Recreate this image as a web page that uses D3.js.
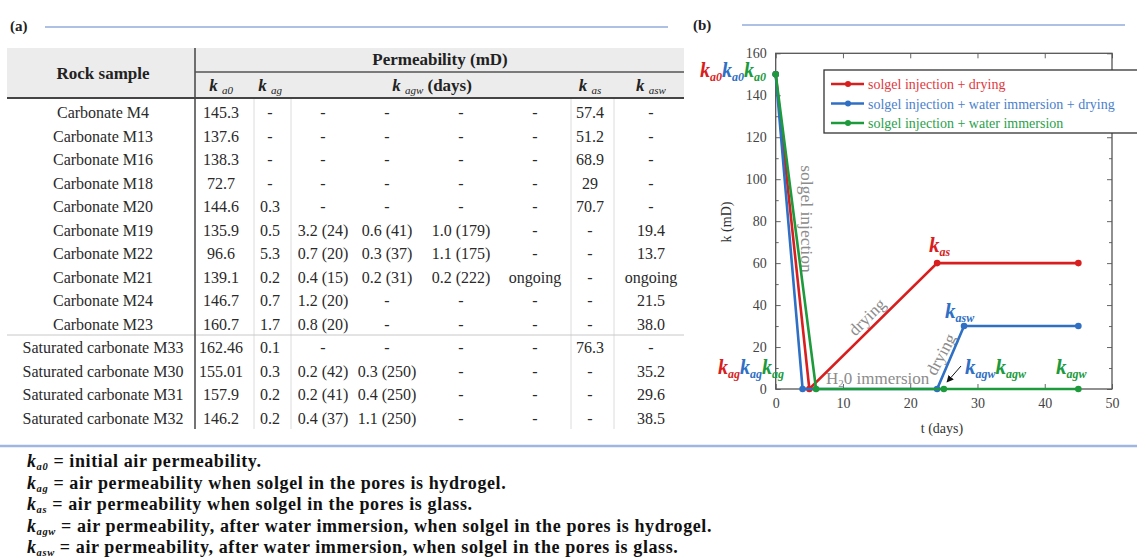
<!doctype html>
<html>
<head>
<meta charset="utf-8">
<title>Permeability</title>
<style>
body { margin: 0; background: #fff; }
text { font-family: "Liberation Serif", serif; }
</style>
<script src="https://cdn.jsdelivr.net/npm/d3@7/dist/d3.min.js"></script>
</head>
<body>
<script>
// ---- table data (a) ----
var samples = ["Carbonate M4", "Carbonate M13", "Carbonate M16", "Carbonate M18", "Carbonate M20",
    "Carbonate M19", "Carbonate M22", "Carbonate M21", "Carbonate M24", "Carbonate M23",
    "Saturated carbonate M33", "Saturated carbonate M30", "Saturated carbonate M31", "Saturated carbonate M32"];
var ka0 = ["145.3", "137.6", "138.3", "72.7", "144.6", "135.9", "96.6", "139.1", "146.7", "160.7",
    "162.46", "155.01", "157.9", "146.2"];
var kag = ["-", "-", "-", "-", "0.3", "0.5", "5.3", "0.2", "0.7", "1.7", "0.1", "0.3", "0.2", "0.2"];
var kagw1 = ["-", "-", "-", "-", "-", "3.2 (24)", "0.7 (20)", "0.4 (15)", "1.2 (20)", "0.8 (20)",
    "-", "0.2 (42)", "0.2 (41)", "0.4 (37)"];
var kagw2 = ["-", "-", "-", "-", "-", "0.6 (41)", "0.3 (37)", "0.2 (31)", "-", "-",
    "-", "0.3 (250)", "0.4 (250)", "1.1 (250)"];
var kagw3 = ["-", "-", "-", "-", "-", "1.0 (179)", "1.1 (175)", "0.2 (222)", "-", "-", "-", "-", "-", "-"];
var kagw4 = ["-", "-", "-", "-", "-", "-", "-", "ongoing", "-", "-", "-", "-", "-", "-"];
var kas = ["57.4", "51.2", "68.9", "29", "70.7", "-", "-", "-", "-", "-", "76.3", "-", "-", "-"];
var kasw = ["-", "-", "-", "-", "-", "19.4", "13.7", "ongoing", "21.5", "38.0", "-", "35.2", "29.6", "38.5"];

// ---- chart data (b) ----
var seriesNames = ["solgel injection + drying", "solgel injection + water immersion + drying",
    "solgel injection + water immersion"];
var tRed = [0, 5, 24, 45], kRed = [150, 0, 60, 60];
var tBlue = [0, 4, 24, 28, 45], kBlue = [150, 0, 0, 30, 30];
var tGreen = [0, 6, 25, 45], kGreen = [150, 0, 0, 0];
var xTicks = [0, 10, 20, 30, 40, 50];
var yTicks = [0, 20, 40, 60, 80, 100, 120, 140, 160];

var notes = [["a0", "initial air permeability."],
    ["ag", "air permeability when solgel in the pores is hydrogel."],
    ["as", "air permeability when solgel in the pores is glass."],
    ["agw", "air permeability, after water immersion, when solgel in the pores is hydrogel."],
    ["asw", "air permeability, after water immersion, when solgel in the pores is glass."]];

var red = "#d81e1e", blue = "#2f6fc4", green = "#1c9a3c";
var colors = [red, blue, green];
var legendColors = ["#e0393d", "#4a7fcc", "#2aa04a"];

var svg = d3.select("body").append("svg")
    .attr("width", 1137)
    .attr("height", 558);

// k with subscript, several in a row
function kRow(x, y, subs, cols, size, subSize, shift) {
    var t = svg.append("text").attr("x", x).attr("y", y)
        .attr("font-weight", "bold").attr("font-style", "italic").attr("font-size", size);
    subs.forEach(function(s, i) {
        t.append("tspan").attr("fill", cols[i]).attr("dy", i ? -shift : 0).text("k");
        t.append("tspan").attr("fill", cols[i]).attr("font-size", subSize).attr("dy", shift).text(s);
    });
    return t;
}

// ---- panel titles ----
svg.append("text").attr("x", 10).attr("y", 31).attr("font-weight", "bold").attr("font-size", 15).attr("fill", "#222").text("(a)");
svg.append("line").attr("x1", 45).attr("x2", 668).attr("y1", 27).attr("y2", 27).attr("stroke", "#5f84cc").attr("stroke-width", 1.2);
svg.append("text").attr("x", 693).attr("y", 30).attr("font-weight", "bold").attr("font-size", 15).attr("fill", "#222").text("(b)");
svg.append("line").attr("x1", 742).attr("x2", 1125).attr("y1", 25).attr("y2", 25).attr("stroke", "#5f84cc").attr("stroke-width", 1.2);

// ---- table ----
var tbl = svg.append("g");
tbl.append("rect").attr("x", 7).attr("y", 48).attr("width", 677).attr("height", 50).attr("fill", "#ececec");

var rowY = d3.scaleLinear().domain([0, 13]).range([113, 419]);
var columns = [
    {vals: samples, cx: 103},
    {vals: ka0, cx: 221},
    {vals: kag, cx: 270},
    {vals: kagw1, cx: 323},
    {vals: kagw2, cx: 387},
    {vals: kagw3, cx: 461},
    {vals: kagw4, cx: 535},
    {vals: kas, cx: 590},
    {vals: kasw, cx: 651}
];

columns.forEach(function(c) {
    tbl.selectAll(null).data(c.vals).enter().append("text")
        .attr("x", c.cx)
        .attr("y", function(d, i) { return rowY(i) + 5; })
        .attr("text-anchor", "middle")
        .attr("font-size", 16)
        .attr("fill", "#2a2a2a")
        .text(function(d) { return d; });
});

tbl.append("text").attr("x", 103).attr("y", 79).attr("text-anchor", "middle")
    .attr("font-weight", "bold").attr("font-size", 17).attr("fill", "#222").text("Rock sample");
tbl.append("text").attr("x", 440).attr("y", 65).attr("text-anchor", "middle")
    .attr("font-weight", "bold").attr("font-size", 17).attr("fill", "#222").text("Permeability (mD)");

// header k labels
[["a0", 221], ["ag", 270], ["as", 590], ["asw", 651]].forEach(function(h) {
    var t = tbl.append("text").attr("x", h[1]).attr("y", 91).attr("text-anchor", "middle")
        .attr("font-weight", "bold").attr("font-style", "italic").attr("fill", "#222").attr("font-size", 17);
    t.append("tspan").text("k ");
    t.append("tspan").attr("font-size", 11).attr("font-weight", "normal").attr("dy", 3).text(h[0]);
});
var th = tbl.append("text").attr("x", 432).attr("y", 91).attr("text-anchor", "middle")
    .attr("font-weight", "bold").attr("fill", "#222").attr("font-size", 17);
th.append("tspan").attr("font-style", "italic").text("k ");
th.append("tspan").attr("font-style", "italic").attr("font-size", 11).attr("font-weight", "normal").attr("dy", 3).text("agw");
th.append("tspan").attr("dy", -3).text(" (days)");

// table rules
[254, 291, 571, 614].forEach(function(x) {
    tbl.append("line").attr("x1", x).attr("x2", x).attr("y1", 99).attr("y2", 429)
        .attr("stroke", "#dcdcdc").attr("stroke-width", 1);
});
tbl.append("line").attr("x1", 7).attr("x2", 684).attr("y1", 335).attr("y2", 335).attr("stroke", "#c8c8c8").attr("stroke-width", 1);
tbl.append("line").attr("x1", 195).attr("x2", 195).attr("y1", 48).attr("y2", 429).attr("stroke", "#444").attr("stroke-width", 1.5);
tbl.append("line").attr("x1", 195).attr("x2", 684).attr("y1", 72).attr("y2", 72).attr("stroke", "#555").attr("stroke-width", 1.5);
tbl.append("line").attr("x1", 7).attr("x2", 684).attr("y1", 98).attr("y2", 98).attr("stroke", "#444").attr("stroke-width", 2);

// ---- chart ----
var x = d3.scaleLinear().domain([0, 50]).range([775.7, 1112]);
var y = d3.scaleLinear().domain([0, 160]).range([389, 53.3]);

var plot = svg.append("g");
function styleAxis(g) {
    g.select(".domain").remove();
    g.selectAll(".tick line").attr("stroke", "#666");
    g.selectAll(".tick text").attr("font-family", "Liberation Serif").attr("font-size", 14).attr("fill", "#444");
}
var minorY = d3.range(10, 160, 20);
plot.append("g").attr("transform", "translate(0,389)")
    .call(d3.axisBottom(x).tickValues(xTicks).tickSize(-5).tickPadding(9)).call(styleAxis);
plot.append("g").attr("transform", "translate(0,53.3)")
    .call(d3.axisTop(x).tickValues(xTicks).tickSize(-5).tickFormat("")).call(styleAxis);
plot.append("g").attr("transform", "translate(775.7,0)")
    .call(d3.axisLeft(y).tickValues(yTicks).tickSize(-5).tickPadding(9)).call(styleAxis);
plot.append("g").attr("transform", "translate(1112,0)")
    .call(d3.axisRight(y).tickValues(yTicks).tickSize(-5).tickFormat("")).call(styleAxis);
plot.append("g").attr("transform", "translate(775.7,0)")
    .call(d3.axisLeft(y).tickValues(minorY).tickSize(-3).tickFormat("")).call(styleAxis);
plot.append("g").attr("transform", "translate(1112,0)")
    .call(d3.axisRight(y).tickValues(minorY).tickSize(-3).tickFormat("")).call(styleAxis);
plot.append("rect").attr("x", 775.7).attr("y", 53.3).attr("width", 1112 - 775.7).attr("height", 389 - 53.3)
    .attr("fill", "none").attr("stroke", "#555").attr("stroke-width", 1.3);

plot.append("text").attr("x", 942).attr("y", 433).attr("text-anchor", "middle")
    .attr("font-size", 14).attr("fill", "#333").text("t (days)");
plot.append("text").attr("transform", "translate(731,222) rotate(-90)").attr("text-anchor", "middle")
    .attr("font-size", 14).attr("fill", "#333").text("k (mD)");

// gray annotations
var gray = "#8c8c8c";
plot.append("text").attr("transform", "translate(801,219) rotate(90)").attr("text-anchor", "middle")
    .attr("font-size", 17.5).attr("fill", gray).text("solgel injection");
plot.append("text").attr("transform", "translate(871,321) rotate(-45)").attr("text-anchor", "middle")
    .attr("font-size", 17).attr("fill", gray).text("drying");
plot.append("text").attr("transform", "translate(946,357) rotate(-62)").attr("text-anchor", "middle")
    .attr("font-size", 17).attr("fill", gray).text("drying");
var h2o = plot.append("text").attr("x", 826).attr("y", 384).attr("font-size", 17).attr("fill", gray);
h2o.append("tspan").text("H");
h2o.append("tspan").attr("font-size", 11).attr("dy", 3).text("2");
h2o.append("tspan").attr("dy", -3).text("0 immersion");

// lines
var line = d3.line().x(function(d) { return x(d[0]); }).y(function(d) { return y(d[1]); });
var series = [d3.zip(tRed, kRed), d3.zip(tBlue, kBlue), d3.zip(tGreen, kGreen)];
series.forEach(function(s, i) {
    plot.append("path").datum(s).attr("d", line).attr("fill", "none")
        .attr("stroke", colors[i]).attr("stroke-width", 2.6);
    plot.selectAll(null).data(s).enter().append("circle")
        .attr("cx", function(d) { return x(d[0]); })
        .attr("cy", function(d) { return y(d[1]); })
        .attr("r", 3.3).attr("fill", colors[i]);
});

// arrow
svg.append("defs").append("marker").attr("id", "arr").attr("viewBox", "0 0 10 10")
    .attr("refX", 9).attr("refY", 5).attr("markerWidth", 7).attr("markerHeight", 7).attr("orient", "auto")
    .append("path").attr("d", "M0,0L10,5L0,10z").attr("fill", "#111");
plot.append("line").attr("x1", 961).attr("y1", 366).attr("x2", 947).attr("y2", 382)
    .attr("stroke", "#111").attr("stroke-width", 1).attr("marker-end", "url(#arr)");

// k labels in the chart
kRow(700, 77, ["a0", "a0", "a0"], colors, 20, 12, 4);
kRow(718, 374, ["ag", "ag", "ag"], colors, 20, 12, 4);
kRow(929, 252, ["as"], [red], 21, 12, 4);
kRow(945, 318, ["asw"], [blue], 21, 12, 4);
kRow(965, 374, ["agw", "agw"], [blue, green], 21, 12, 4);
kRow(1056, 374, ["agw"], [green], 21, 12, 4);

// legend
var leg = svg.append("g");
leg.append("rect").attr("x", 824).attr("y", 70).attr("width", 330).attr("height", 63)
    .attr("fill", "#fff").attr("stroke", "#333").attr("stroke-width", 1.3);
seriesNames.forEach(function(n, i) {
    var ly = 84 + i * 19.5;
    leg.append("line").attr("x1", 831).attr("x2", 864).attr("y1", ly).attr("y2", ly)
        .attr("stroke", colors[i]).attr("stroke-width", 2.6);
    leg.append("circle").attr("cx", 848).attr("cy", ly).attr("r", 3).attr("fill", colors[i]);
    leg.append("text").attr("x", 868).attr("y", ly + 5).attr("font-size", 14)
        .attr("fill", legendColors[i]).text(n);
});

// ---- footnote ----
svg.append("line").attr("x1", 0).attr("x2", 1137).attr("y1", 446).attr("y2", 446)
    .attr("stroke", "#9fb5e2").attr("stroke-width", 2.5);
notes.forEach(function(n, i) {
    var t = svg.append("text").attr("x", 27).attr("y", 467 + i * 21.5)
        .attr("font-weight", "bold").attr("font-size", 18).attr("letter-spacing", 0.6).attr("fill", "#111");
    t.append("tspan").attr("font-style", "italic").text("k");
    t.append("tspan").attr("font-style", "italic").attr("font-size", 10.5).attr("dy", 3).text(n[0]);
    t.append("tspan").attr("dy", -3).text(" = " + n[1]);
});
</script>
</body>
</html>
